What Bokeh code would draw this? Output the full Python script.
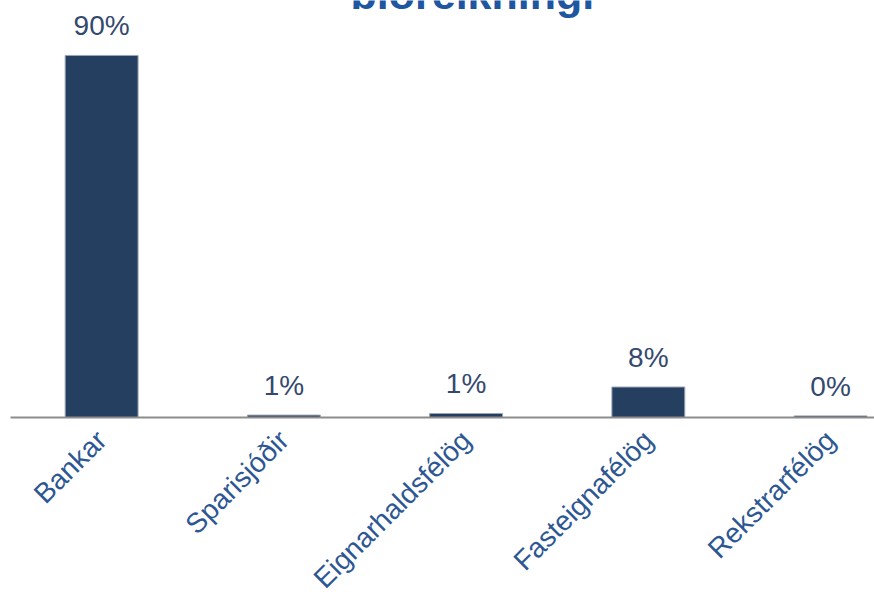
import math
from bokeh.plotting import figure
from bokeh.models import Range1d, FixedTicker, ColumnDataSource, Label, LabelSet
from bokeh.core.properties import value
from bokeh.embed import file_html
from bokeh.resources import INLINE

# ---- data ----
categories = ["Bankar", "Sparisjóðir", "Eignarhaldsfélög", "Fasteignafélög", "Rekstrarfélög"]
shares = [90.3, 0.6, 1.0, 7.6, 0.4]
title_text = "biðreikningi"

xs = list(range(len(categories)))
labels = [f"{round(v)}%" for v in shares]
src = ColumnDataSource(dict(x=xs, top=shares, label=labels))

p = figure(width=874, height=607, output_backend="svg", toolbar_location=None,
           x_range=Range1d(-0.5, 4.241), y_range=Range1d(0, 104.0),
           min_border_left=10, min_border_right=0, min_border_top=0, min_border_bottom=0)
p.outline_line_color = None
p.xgrid.visible = False
p.ygrid.visible = False
p.yaxis.visible = False

p.vbar(x="x", top="top", bottom=0, width=0.40, source=src,
       fill_color="#243F60", line_color="#9AA5B5", line_width=1)

p.add_layout(LabelSet(x="x", y="top", text="label", source=src,
                      text_align="center", text_baseline="alphabetic", y_offset=20,
                      text_font=value("Liberation Sans"), text_font_size="28px",
                      text_color="#34496E"))

ax = p.xaxis[0]
ax.ticker = FixedTicker(ticks=xs)
ax.major_label_overrides = {i: c for i, c in zip(xs, categories)}
ax.major_label_orientation = math.pi / 4
ax.major_label_text_font = "Liberation Sans"
ax.major_label_text_font_size = "28px"
ax.major_label_text_color = "#2D5793"
ax.major_label_standoff = 18
ax.major_tick_out = 0
ax.major_tick_in = 0
ax.minor_tick_out = 0
ax.minor_tick_in = 0
ax.major_tick_line_color = None
ax.minor_tick_line_color = None
ax.axis_line_color = "#8C8C8C"
ax.axis_line_width = 2

p.add_layout(Label(x=340, y=424, x_units="screen", y_units="screen", text=title_text,
                   text_align="left", text_baseline="alphabetic",
                   text_font="Liberation Sans", text_font_style="bold",
                   text_font_size="43px", text_color="#1F56A0"))

open("out.html", "w").write(file_html(p, INLINE))
